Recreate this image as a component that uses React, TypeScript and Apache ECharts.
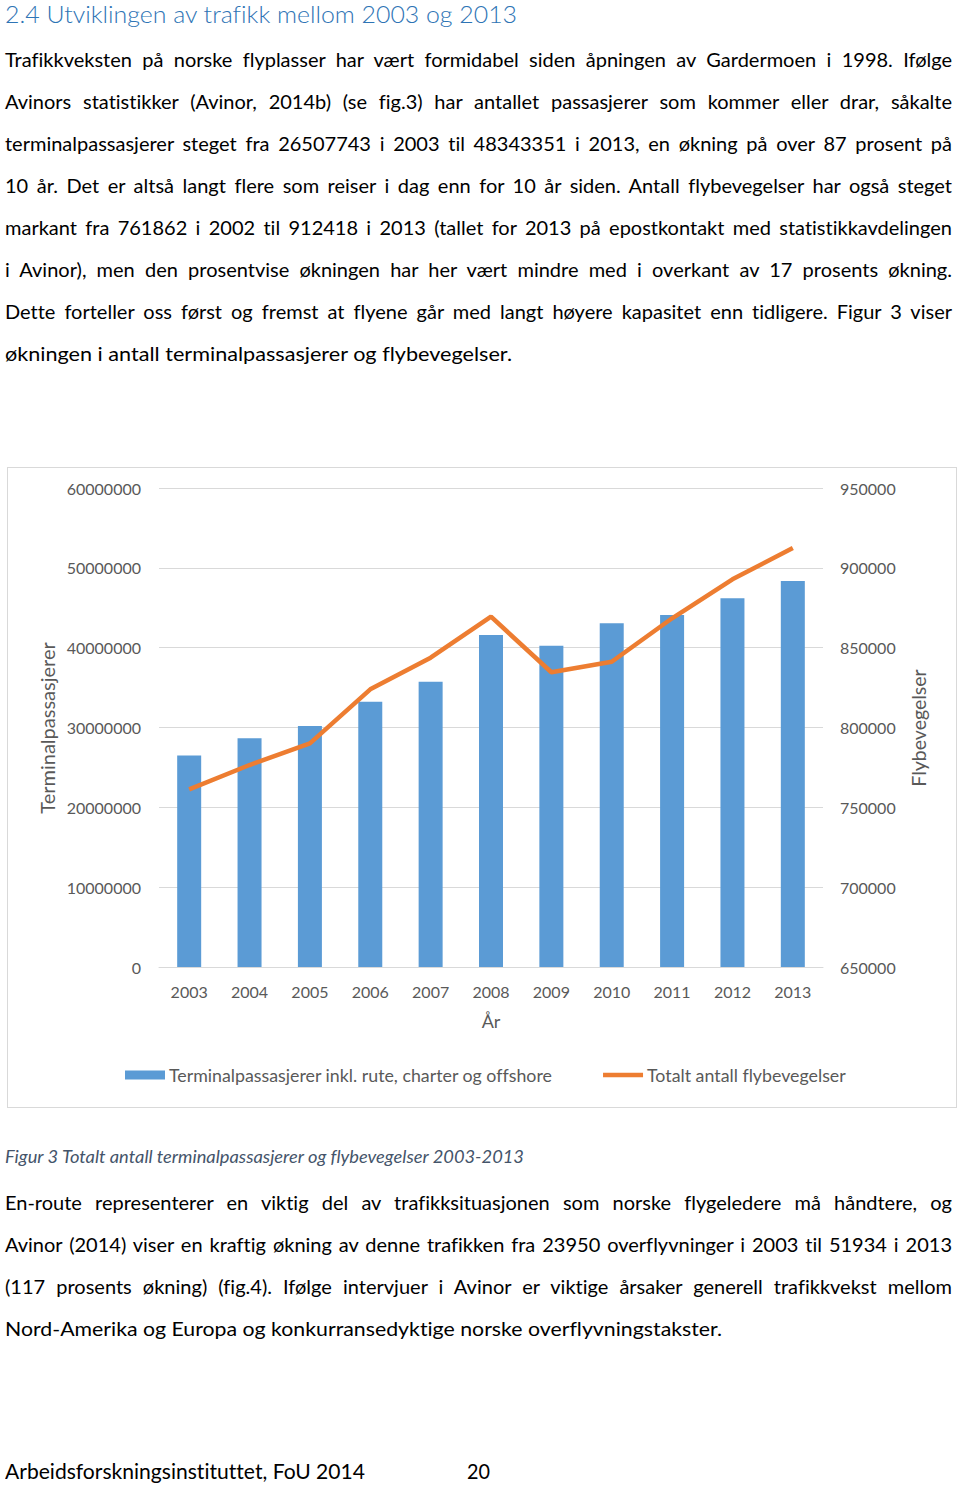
import React, { useEffect, useRef } from 'react';
import * as echarts from 'echarts';

// ---------- chart data ----------
const years = ['2003', '2004', '2005', '2006', '2007', '2008', '2009', '2010', '2011', '2012', '2013'];
const passengers = [26507743, 28650000, 30190000, 33240000, 35740000, 41590000, 40250000, 43050000, 44090000, 46180000, 48343351];
const flights = [761300, 776500, 790100, 823900, 843700, 869400, 834600, 841200, 868400, 892800, 912418];
const leftTicks = { min: 0, max: 60000000, interval: 10000000 };
const rightTicks = { min: 650000, max: 950000, interval: 50000 };
const seriesNames = ['Terminalpassasjerer inkl. rute, charter og offshore', 'Totalt antall flybevegelser'];
const leftAxisName = 'Terminalpassasjerer';
const rightAxisName = 'Flybevegelser';
const xAxisName = 'År';

// ---------- page text ----------
const heading = '2.4 Utviklingen av trafikk mellom 2003 og 2013';
const para1 = [
  'Trafikkveksten på norske flyplasser har vært formidabel siden åpningen av Gardermoen i 1998. Ifølge',
  'Avinors statistikker (Avinor, 2014b) (se fig.3) har antallet passasjerer som kommer eller drar, såkalte',
  'terminalpassasjerer steget fra 26507743 i 2003 til 48343351 i 2013, en økning på over 87 prosent på',
  '10 år. Det er altså langt flere som reiser i dag enn for 10 år siden. Antall flybevegelser har også steget',
  'markant fra 761862 i 2002 til 912418 i 2013 (tallet for 2013 på epostkontakt med statistikkavdelingen',
  'i Avinor), men den prosentvise økningen har her vært mindre med i overkant av 17 prosents økning.',
  'Dette forteller oss først og fremst at flyene går med langt høyere kapasitet enn tidligere. Figur 3 viser',
  'økningen i antall terminalpassasjerer og flybevegelser.',
];
const caption = 'Figur 3 Totalt antall terminalpassasjerer og flybevegelser 2003-2013';
const para2 = [
  'En-route representerer en viktig del av trafikksituasjonen som norske flygeledere må håndtere, og',
  'Avinor (2014) viser en kraftig økning av denne trafikken fra 23950 overflyvninger i 2003 til 51934 i 2013',
  '(117 prosents økning) (fig.4). Ifølge intervjuer i Avinor er viktige årsaker generell trafikkvekst mellom',
  'Nord-Amerika og Europa og konkurransedyktige norske overflyvningstakster.',
];
const footer = 'Arbeidsforskningsinstituttet, FoU 2014';
const pageNumber = '20';

const FONT = 'Lato, "Open Sans", sans-serif';
const TEXT_GRAY = '#595959';

type LineSpec = {
  text: string;
  x: number;
  baseline: number;
  size: number;
  target: number;
  justify?: boolean;
  color?: string;
  weight?: number;
  italic?: boolean;
};

function buildLines(): LineSpec[] {
  const lines: LineSpec[] = [];
  lines.push({ text: heading, x: 5, baseline: 23, size: 24, target: 512, color: '#2e74b5', weight: 300 });
  para1.forEach((t, i) => {
    const last = i === para1.length - 1;
    lines.push({ text: t, x: 5, baseline: 67 + i * 42, size: 20, target: last ? 507 : 947, justify: !last });
  });
  lines.push({ text: caption, x: 5, baseline: 1163, size: 17, target: 519, color: '#44546a', italic: true });
  para2.forEach((t, i) => {
    const last = i === para2.length - 1;
    lines.push({ text: t, x: 5, baseline: 1210 + i * 42, size: 20, target: last ? 717 : 947, justify: !last });
  });
  lines.push({ text: footer, x: 5, baseline: 1479, size: 21, target: 360 });
  lines.push({ text: pageNumber, x: 467, baseline: 1479, size: 21, target: 23 });
  return lines;
}

function fitLines(container: HTMLElement | null) {
  if (!container) return;
  const els = container.querySelectorAll<HTMLElement>('[data-target]');
  els.forEach((el) => {
    el.style.transform = 'none';
    el.style.wordSpacing = '0px';
    const w = el.getBoundingClientRect().width;
    const target = Number(el.dataset.target);
    const justify = el.dataset.justify === '1';
    if (!w) return;
    if (justify && w < target) {
      const spaces = (el.textContent || '').split(' ').length - 1;
      if (spaces > 0) el.style.wordSpacing = (target - w) / spaces + 'px';
    } else {
      el.style.transform = `scaleX(${target / w})`;
    }
  });
}

function Chart() {
  const ref = useRef<HTMLDivElement>(null);
  useEffect(() => {
    if (!ref.current) return;
    const chart = echarts.init(ref.current, undefined, { renderer: 'svg' });
    const labelStyle = { color: TEXT_GRAY, fontSize: 16, fontFamily: FONT };
    const plain = (v: number) => String(v);
    chart.setOption({
      animation: false,
      textStyle: { fontFamily: FONT },
      grid: { left: 151, right: 133, top: 20, bottom: 140 },
      legend: {
        left: 117,
        top: 598,
        padding: 0,
        itemGap: 51,
        itemWidth: 40,
        itemHeight: 9,
        textStyle: { color: TEXT_GRAY, fontSize: 17.8, fontFamily: FONT, padding: [0, 0, 0, -1] },
        data: [
          { name: seriesNames[0], icon: 'rect' },
          { name: seriesNames[1], icon: 'path://M0 0H40V4.5H0Z' },
        ],
      },
      xAxis: {
        type: 'category',
        data: years,
        axisLine: { lineStyle: { color: '#d9d9d9', width: 1 } },
        axisTick: { show: false },
        axisLabel: { ...labelStyle, margin: 16 },
      },
      yAxis: [
        {
          type: 'value',
          min: leftTicks.min,
          max: leftTicks.max,
          interval: leftTicks.interval,
          axisLine: { show: false },
          axisTick: { show: false },
          axisLabel: { ...labelStyle, margin: 18, formatter: plain },
          splitLine: { lineStyle: { color: '#d9d9d9', width: 1 } },
        },
        {
          type: 'value',
          min: rightTicks.min,
          max: rightTicks.max,
          interval: rightTicks.interval,
          axisLine: { show: false },
          axisTick: { show: false },
          axisLabel: { ...labelStyle, margin: 17, formatter: plain },
          splitLine: { show: false },
        },
      ],
      series: [
        {
          name: seriesNames[0],
          type: 'bar',
          data: passengers,
          yAxisIndex: 0,
          barWidth: 24,
          itemStyle: { color: '#5b9bd5' },
        },
        {
          name: seriesNames[1],
          type: 'line',
          data: flights,
          yAxisIndex: 1,
          symbol: 'none',
          lineStyle: { color: '#ed7d31', width: 4.5 },
          itemStyle: { color: '#ed7d31' },
        },
      ],
      graphic: [
        {
          type: 'text',
          x: 39,
          y: 260,
          rotation: Math.PI / 2,
          style: { text: leftAxisName, fill: TEXT_GRAY, fontSize: 20, fontFamily: FONT, align: 'center', verticalAlign: 'middle' },
        },
        {
          type: 'text',
          x: 910,
          y: 260,
          rotation: Math.PI / 2,
          style: { text: rightAxisName, fill: TEXT_GRAY, fontSize: 19.5, fontFamily: FONT, align: 'center', verticalAlign: 'middle' },
        },
        {
          type: 'text',
          x: 483,
          y: 553,
          style: { text: xAxisName, fill: TEXT_GRAY, fontSize: 18, fontFamily: FONT, align: 'center', verticalAlign: 'middle' },
        },
      ],
    });
    return () => chart.dispose();
  }, []);
  return <div ref={ref} style={{ width: 948, height: 639, fontVariantLigatures: 'none' }} />;
}

export default function App() {
  const pageRef = useRef<HTMLDivElement>(null);
  const lines = buildLines();
  useEffect(() => {
    fitLines(pageRef.current);
    if ((document as any).fonts && (document as any).fonts.ready) {
      (document as any).fonts.ready.then(() => fitLines(pageRef.current));
    }
  }, []);
  return (
    <div
      ref={pageRef}
      style={{
        position: 'absolute',
        left: 0,
        top: 0,
        width: 960,
        height: 1486,
        background: '#fff',
        overflow: 'hidden',
        fontFamily: FONT,
        fontVariantLigatures: 'none',
      }}
    >
      {lines.map((l, i) => (
        <div
          key={i}
          data-target={l.target}
          data-justify={l.justify ? '1' : '0'}
          style={{
            position: 'absolute',
            left: l.x,
            top: l.baseline - 0.887 * l.size,
            fontSize: l.size,
            lineHeight: l.size + 'px',
            whiteSpace: 'nowrap',
            color: l.color || '#000',
            fontWeight: l.weight || 400,
            fontStyle: l.italic ? 'italic' : 'normal',
            transformOrigin: '0 0',
          }}
        >
          {l.text}
        </div>
      ))}
      <div style={{ position: 'absolute', left: 7, top: 467, width: 948, height: 639, border: '1px solid #d9d9d9' }}>
        <Chart />
      </div>
    </div>
  );
}
